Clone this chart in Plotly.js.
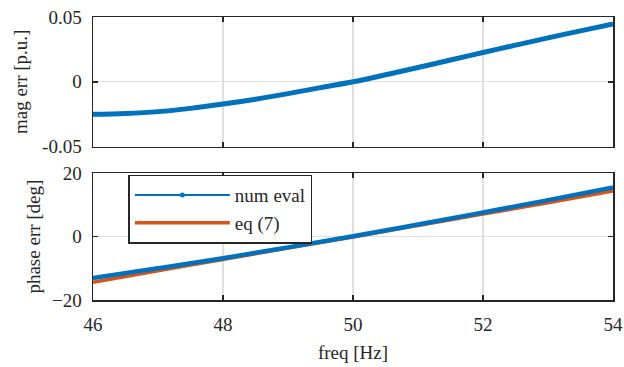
<!DOCTYPE html>
<html><head><meta charset="utf-8">
<script src="https://cdn.plot.ly/plotly-3.0.1.min.js"></script>
<style>html,body{margin:0;padding:0;background:#fff}#c{width:624px;height:367px}</style>
</head><body><div id="c"></div>
<script>
const freqMag = [46,46.5,47,47.5,48,48.5,49,49.5,50,50.5,51,51.5,52,52.5,53,53.5,54];
const magNum = [-0.0251,-0.0244,-0.0230,-0.0205,-0.0172,-0.0134,-0.0091,-0.0045,0.0,0.0054,0.0110,0.0168,0.0226,0.0283,0.0339,0.0393,0.0446];
const freqPh = [46,47,48,49,50,51,52,53,54];
const phaseNum = [-13.1,-10.0,-6.8,-3.4,0.1,3.8,7.6,11.5,15.5];
const phaseEq = [-14.4,-10.8,-7.2,-3.6,-0.1,3.5,7.1,10.7,14.4];
const xTicks = [46,48,50,52,54];
const magTicks = [-0.05,0,0.05];
const magTickText = ['-0.05','0','0.05'];
const phTicks = [-20,0,20];

const BLUE = '#0072BD', ORANGE = '#D95319';
const F = 'Liberation Serif, Times New Roman, serif';
const axBase = {showline:true, mirror:'ticks', linecolor:'#262626', linewidth:1.5,
  ticks:'inside', ticklen:5, tickwidth:1.5, tickcolor:'#262626',
  showgrid:true, gridcolor:'#dfdfdf', gridwidth:1.2, zeroline:false,
  tickfont:{family:F, size:19, color:'#262626'}};

const traces = [
  {x:freqMag, y:magNum, xaxis:'x', yaxis:'y', mode:'lines', line:{color:BLUE, width:5, shape:'spline', smoothing:1}, showlegend:false, name:'num eval'},
  {x:freqPh, y:phaseEq, xaxis:'x2', yaxis:'y2', mode:'lines', line:{color:ORANGE, width:3.5, shape:'spline'}, showlegend:false, name:'eq (7)'},
  {x:freqPh, y:phaseNum, xaxis:'x2', yaxis:'y2', mode:'lines', line:{color:BLUE, width:4.5, shape:'spline'}, showlegend:false, name:'num eval'},
  {x:[null], y:[null], xaxis:'x2', yaxis:'y2', mode:'lines+markers', line:{color:BLUE, width:2}, marker:{color:BLUE, size:5}, name:'num eval'},
  {x:[null], y:[null], xaxis:'x2', yaxis:'y2', mode:'lines', line:{color:ORANGE, width:3.5}, name:'eq (7)'}
];

const layout = {
  width:624, height:367, paper_bgcolor:'#fff', plot_bgcolor:'#fff',
  margin:{l:93, r:11, t:17, b:67},
  font:{family:F, color:'#262626'},
  xaxis: Object.assign({}, axBase, {domain:[0,1], range:[46,54], tickvals:xTicks, showticklabels:false, anchor:'y'}),
  yaxis: Object.assign({}, axBase, {domain:[0.542,1], range:[-0.05,0.05], tickvals:magTicks, ticktext:magTickText, anchor:'x', ticklabelstandoff:6,
     title:{text:'mag err [p.u.]', font:{family:F, size:19, color:'#262626'}, standoff:9}}),
  xaxis2: Object.assign({}, axBase, {domain:[0,1], range:[46,54], tickvals:xTicks, anchor:'y2', ticklabelstandoff:7,
     title:{text:'freq [Hz]', font:{family:F, size:19, color:'#262626'}, standoff:11}}),
  yaxis2: Object.assign({}, axBase, {domain:[0,0.448], range:[-20,20], tickvals:phTicks, anchor:'x2', ticklabelstandoff:6,
     title:{text:'phase err [deg]', font:{family:F, size:19, color:'#262626'}, standoff:6}}),
  legend:{x:0.068, y:0.443, xanchor:'left', yanchor:'top', bgcolor:'#fff', bordercolor:'#262626', borderwidth:1.5,
     font:{family:F, size:19, color:'#262626'}, itemwidth:95, tracegroupgap:0},
  showlegend:true
};
Plotly.newPlot('c', traces, layout, {staticPlot:true, displayModeBar:false});
</script></body></html>
